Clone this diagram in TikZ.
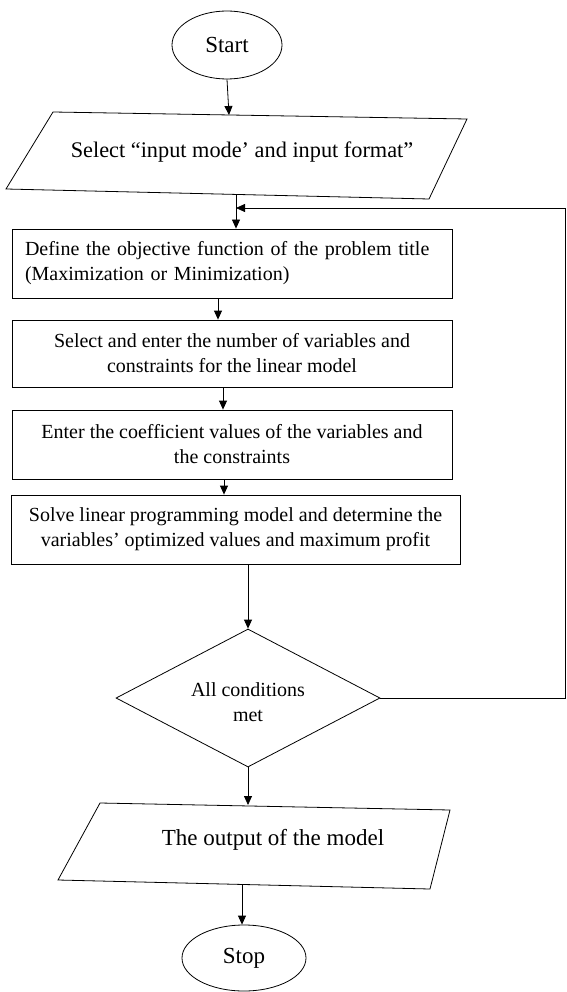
\documentclass[tikz,border=0pt]{standalone}
\usepackage{fontspec}
\setmainfont{Liberation Serif}
\usetikzlibrary{shapes.geometric,arrows.meta}
\begin{document}
\begin{tikzpicture}[x=1pt,y=-1pt,
  line width=0.8pt,
  txt/.style={font=\fontsize{20}{25}\selectfont},
  bigtxt/.style={font=\fontsize{23}{27}\selectfont},
  term/.style={ellipse,draw,bigtxt},
  procbox/.style={rectangle,draw,txt,align=center,inner sep=0pt},
  arr/.style={-{Triangle[length=9pt,width=8pt]}}]
\useasboundingbox (0,0) rectangle (566,992);
% Start
\node[term,minimum width=110,minimum height=68,inner sep=0pt] (start) at (227,45) {Start};
% input parallelogram
\coordinate (p1tl) at (53,112);
\coordinate (p1tr) at (467,119);
\coordinate (p1br) at (429,199);
\coordinate (p1bl) at (6,189);
\draw (p1tl) -- (p1tr) -- (p1br) -- (p1bl) -- cycle;
\node[font=\fontsize{22.3}{27}\selectfont] (in) at (242,152) {Select “input mode’ and input format”};
\coordinate (p1top) at (229,115);
\coordinate (p1bot) at (236,195);
% boxes
\node[procbox,minimum width=440,minimum height=69,text width=414,align=left] (b1) at (232,263.5)
  {Define the objective function of the problem title\\(Maximization or Minimization)};
\node[procbox,minimum width=440,minimum height=67] (b2) at (232,353.5)
  {Select and enter the number of variables and\\constraints for the linear model};
\node[procbox,minimum width=440,minimum height=69] (b3) at (232,444.5)
  {Enter the coefficient values of the variables and\\the constraints};
\node[procbox,minimum width=449,minimum height=69] (b4) at (235.5,529.5)
  {Solve linear programming model and determine the\\variables’ optimized values and maximum profit};
% decision
\node[diamond,draw,minimum width=264,minimum height=138,inner sep=0pt] (dec) at (248,698) {};
\node[txt,align=center] (dect) at (248,702) {All conditions\\met};
% output parallelogram
\coordinate (p2tl) at (100,803);
\coordinate (p2tr) at (450,810);
\coordinate (p2br) at (430,889);
\coordinate (p2bl) at (58,880);
\draw (p2tl) -- (p2tr) -- (p2br) -- (p2bl) -- cycle;
\node[bigtxt] (out) at (273,840) {The output of the model};
\coordinate (p2top) at (248,805);
\coordinate (p2bot) at (242,885);
% Stop
\node[term,minimum width=124,minimum height=66,inner sep=0pt] (stop) at (244,958) {Stop};
% connectors
\draw[arr] (start.south) -- (p1top);
\draw[arr] (p1bot) -- (b1.north -| p1bot);
\draw[arr] ([xshift=-14pt]b1.south) -- ([xshift=-14pt]b2.north);
\draw[arr] ([xshift=-9pt]b2.south) -- ([xshift=-9pt]b3.north);
\draw[arr] ([xshift=-8pt]b3.south) -- ([xshift=-11.5pt]b4.north);
\draw[arr] (b4.south -| dec.north) -- (dec.north);
\draw[arr] (dec.south) -- (p2top);
\draw[arr] (p2bot) -- (p2bot |- stop.north);
% feedback loop
\coordinate (fr) at (565,698);
\coordinate (fj) at (236,208);
\draw[arr] (dec.east) -- (fr) -- (fr |- fj) -- (fj);
\end{tikzpicture}
\end{document}
